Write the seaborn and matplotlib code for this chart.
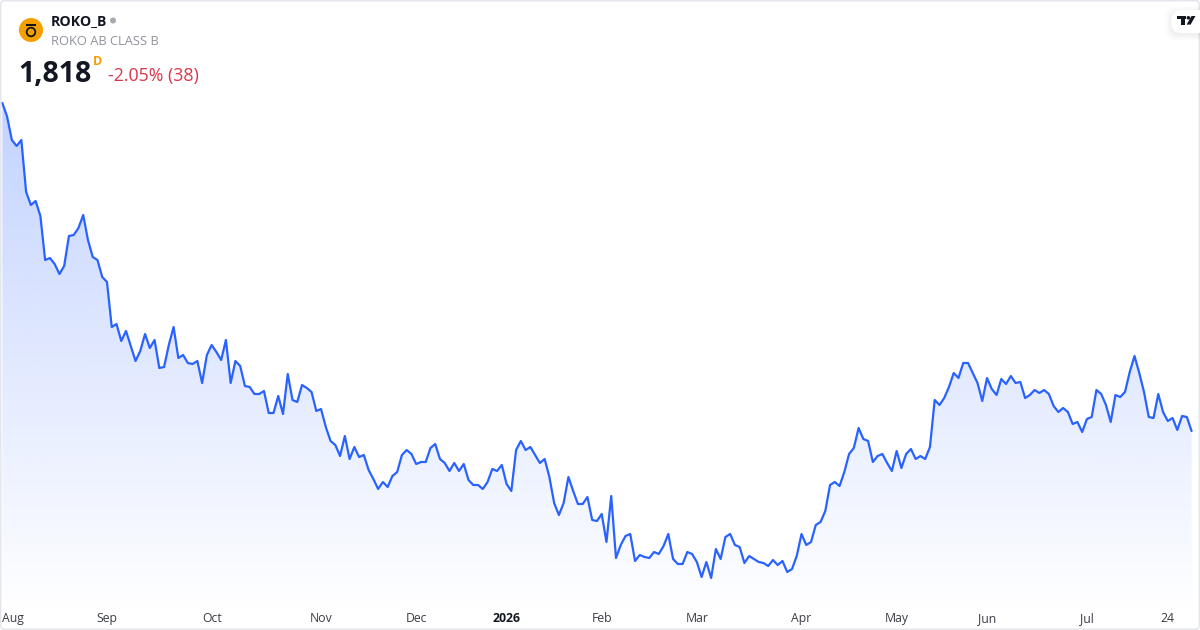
import numpy as np
import pandas as pd
import seaborn as sns
import matplotlib
matplotlib.use("Agg")
import matplotlib.pyplot as plt
from matplotlib.patches import Circle, FancyBboxPatch, Polygon, Rectangle

prices_a = [2474, 2447, 2400, 2388, 2400, 2296, 2270, 2278, 2248, 2160,
            2164, 2152, 2132, 2148, 2208, 2210, 2224, 2250, 2200, 2166,
            2160, 2126, 2116, 2026, 2032, 1998, 2018, 1988, 1958, 1978,
            2012, 1984, 2000, 1944, 1946, 1990, 2026, 1964, 1970, 1954,
            1952, 1958, 1914, 1970, 1990, 1976, 1960, 2000, 1914, 1958,
            1948, 1908, 1906, 1892, 1892, 1898, 1854, 1854, 1888, 1852,
            1932, 1880, 1876]
prices_b = [1910, 1904, 1896, 1858, 1862, 1826, 1798, 1790, 1768, 1808,
            1762, 1786, 1766, 1770, 1740, 1722, 1702, 1716, 1706, 1728,
            1736, 1770, 1780, 1772, 1752, 1756, 1756, 1784, 1792, 1762,
            1754, 1738, 1754, 1738, 1752, 1720, 1710, 1710, 1702, 1716,
            1742, 1738, 1750, 1712, 1698, 1780, 1798, 1780, 1786, 1770,
            1754, 1762, 1726, 1674, 1650, 1674, 1726, 1698, 1672, 1672,
            1686, 1640, 1638]
prices_c = [1652, 1596, 1688, 1564, 1590, 1608, 1612, 1558, 1570, 1566,
            1564, 1576, 1572, 1588, 1612, 1562, 1552, 1552, 1576, 1572,
            1556, 1526, 1556, 1524, 1582, 1562, 1606, 1612, 1590, 1586,
            1554, 1568, 1562, 1556, 1554, 1548, 1560, 1550, 1558, 1536,
            1542, 1568, 1612, 1590, 1596, 1630, 1636, 1658, 1710, 1716,
            1708, 1736, 1772, 1784, 1824, 1802, 1798, 1756, 1768, 1772,
            1754, 1738, 1778]
prices_d = [1744, 1772, 1782, 1762, 1768, 1762, 1786, 1880, 1870, 1884,
            1906, 1934, 1924, 1954, 1954, 1934, 1914, 1878, 1924, 1902,
            1890, 1922, 1912, 1928, 1914, 1916, 1884, 1890, 1900, 1894,
            1900, 1892, 1868, 1856, 1864, 1856, 1832, 1836, 1816, 1842,
            1846, 1900, 1892, 1870, 1836, 1890, 1886, 1896, 1936, 1968,
            1934, 1896, 1846, 1844, 1892, 1856, 1838, 1844, 1820, 1848,
            1846, 1818]
holidays = ["2025-12-24", "2025-12-25", "2025-12-26", "2025-12-31", "2026-01-01",
            "2026-01-06", "2026-04-03", "2026-04-06", "2026-05-01", "2026-05-14",
            "2026-06-19"]
tick_dates = ["2025-07-31", "2025-09-01", "2025-10-01", "2025-11-03", "2025-12-01",
              "2026-01-02", "2026-02-02", "2026-03-02", "2026-04-01", "2026-05-04",
              "2026-06-01", "2026-07-01", "2026-07-24"]
tick_labels = ["Aug", "Sep", "Oct", "Nov", "Dec", "2026", "Feb", "Mar", "Apr", "May",
               "Jun", "Jul", "24"]

prices = prices_a + prices_b + prices_c + prices_d
days = pd.bdate_range("2025-07-31", "2026-07-31").difference(pd.to_datetime(holidays))
days = days[:len(prices)]
df = pd.DataFrame({"session": np.arange(len(prices)), "date": days, "close": prices})

LINE = "#2962FF"
sns.set_theme(style="white")
plt.rcParams["font.family"] = ["Open Sans", "DejaVu Sans"]

fig = plt.figure(figsize=(12, 6.3), dpi=100, facecolor="white")
ax = fig.add_axes([0, 0, 1, 1])
ax.set_xlim(-0.49, 251.77)
ax.set_ylim(1420, 2680)

# gradient area under the line, clipped to the filled region
area = ax.fill_between(df["session"], df["close"], 1420, color="none", lw=0)
rgba = np.zeros((256, 2, 4))
rgba[..., 0], rgba[..., 1], rgba[..., 2] = matplotlib.colors.to_rgb(LINE)
rgba[..., 3] = np.linspace(0.28, 0.0, 256)[:, None]
top, bottom = 2474, 1450
img = ax.imshow(rgba, extent=(-0.49, 251.77, bottom, top), origin="upper",
                aspect="auto", zorder=1, interpolation="bilinear")
img.set_clip_path(area.get_paths()[0], transform=ax.transData)
ax.set_xlim(-0.49, 251.77)
ax.set_ylim(1420, 2680)

sns.lineplot(data=df, x="session", y="close", color=LINE, lw=1.6, ax=ax, zorder=3,
             errorbar=None, estimator=None)

pos = [int(df.index[df["date"] == pd.Timestamp(d)][0]) for d in tick_dates]
ax.set_xticks(pos)
ax.set_xticklabels(tick_labels)
ax.set_yticks([])
ax.set_xlabel("")
ax.set_ylabel("")
ax.tick_params(axis="x", direction="in", length=0, pad=-5.8, labelsize=8.8,
               labelcolor="#3a3d45")
for lab in ax.get_xticklabels():
    lab.set_zorder(5)
    lab.set_verticalalignment("baseline")
    if lab.get_text() == "2026":
        lab.set_fontweight("bold")
        lab.set_color("#131722")
    if lab.get_text() == "Aug":
        lab.set_horizontalalignment("left")
for s in ax.spines.values():
    s.set_visible(False)

# overlay in pixel coordinates for the header, logo and frame
ov = fig.add_axes([0, 0, 1, 1], facecolor="none")
ov.set_xlim(0, 1200)
ov.set_ylim(630, 0)
ov.axis("off")

ov.add_patch(FancyBboxPatch((0.7, 0.7), 1198.6, 628.6, boxstyle="round,pad=0,rounding_size=4",
                            fc="none", ec="#E4E6EC", lw=1.1))

ov.add_patch(Circle((31, 30), 12, fc="#F59F00", ec="none"))
ov.add_patch(Circle((31, 32), 4.3, fc="none", ec="#15171c", lw=1.3))
ov.add_patch(Rectangle((26.3, 24.2), 9.4, 1.5, fc="#15171c", ec="none"))
ov.text(51, 21, "ROKO_B", ha="left", va="center", fontsize=10.2, fontweight="bold", color="#131722")
ov.add_patch(Circle((113, 20.5), 3, fc="#A6A8AE", ec="none"))
ov.text(51, 41.5, "ROKO AB CLASS B", ha="left", va="center", fontsize=9.25, color="#8f939b")
ov.text(18.5, 74, "1,818", ha="left", va="center", fontsize=20.5, fontweight="bold", color="#131722")
ov.text(93, 61.5, "D", ha="left", va="center", fontsize=9, fontweight="bold", color="#F59F00")
ov.text(108, 75.5, "-2.05% (38)", ha="left", va="center", fontsize=12.75, color="#D6364A")

# TradingView badge
for grow, alpha in [(6, 0.008), (4.5, 0.012), (3, 0.016), (1.5, 0.02)]:
    ov.add_patch(FancyBboxPatch((1171 - grow, 10 - grow + 2), 60 + 2 * grow, 23 + 2 * grow,
                                boxstyle="round,pad=0,rounding_size=11", fc="black", ec="none",
                                alpha=alpha, clip_on=True))
ov.add_patch(FancyBboxPatch((1171, 10), 60, 23, boxstyle="round,pad=0,rounding_size=11",
                            fc="white", ec="none", clip_on=True))
ov.add_patch(Rectangle((1177, 16), 8.6, 3.3, fc="#131722", ec="none"))
ov.add_patch(Rectangle((1180.6, 16), 4.8, 8.6, fc="#131722", ec="none"))
ov.add_patch(Circle((1188.4, 17.8), 1.8, fc="#131722", ec="none"))
ov.add_patch(Polygon([(1191.5, 16), (1195.5, 16), (1190.6, 24.6), (1186.6, 24.6)],
                     fc="#131722", ec="none"))

fig.savefig("out.png", dpi=100, facecolor="white")
